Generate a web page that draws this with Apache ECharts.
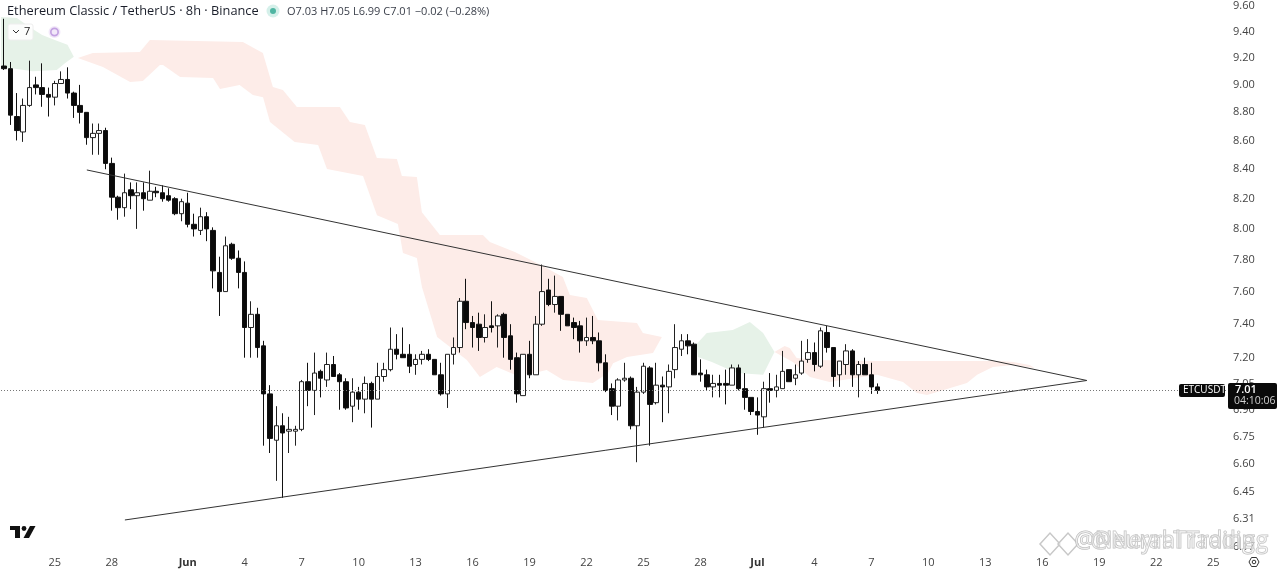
<!DOCTYPE html>
<html>
<head>
<meta charset="utf-8">
<style>html,body{margin:0;padding:0;background:#fff}#c{width:1280px;height:569px}</style>
<script src="https://cdn.jsdelivr.net/npm/echarts@6/dist/echarts.min.js"></script>
</head>
<body>
<div id="c"></div>
<script>
const opens=[9.14,9.12,8.77,8.66,8.85,9.00,8.98,8.93,8.91,9.01,
9.04,8.94,8.85,8.80,8.62,8.65,8.67,8.44,8.21,8.14,
8.26,8.22,8.24,8.19,8.25,8.24,8.22,8.20,8.10,8.17,
8.03,7.99,8.08,7.99,7.72,7.60,7.90,7.81,7.72,7.38,
7.46,7.27,6.99,6.73,6.81,6.78,6.78,6.79,7.06,7.01,
7.12,7.07,7.16,7.10,7.06,6.92,7.00,6.96,7.05,6.96,
7.09,7.13,7.25,7.22,7.22,7.16,7.19,7.22,7.19,7.10,
6.99,7.22,7.26,7.54,7.41,7.40,7.32,7.39,7.39,7.46,
7.33,7.20,6.98,7.22,7.10,7.40,7.61,7.52,7.57,7.46,
7.41,7.39,7.30,7.32,7.30,7.17,7.02,6.92,7.07,7.08,
6.81,7.00,7.14,6.94,7.04,7.03,7.13,7.25,7.30,7.28,
7.11,7.10,7.03,7.05,7.05,7.04,7.14,7.02,6.97,6.89,
6.86,7.02,7.01,7.02,7.13,7.08,7.11,7.19,7.23,7.15,
7.35,7.26,7.10,7.16,7.24,7.10,7.16,7.10,7.03];
const closes=[9.12,8.78,8.67,8.85,8.98,8.98,8.93,8.91,9.01,9.04,
8.94,8.85,8.80,8.62,8.65,8.67,8.44,8.21,8.14,8.24,
8.22,8.24,8.20,8.25,8.24,8.20,8.19,8.10,8.18,8.03,
8.00,8.08,8.00,7.73,7.60,7.89,7.81,7.72,7.38,7.46,
7.26,6.99,6.74,6.81,6.77,6.79,6.79,7.06,7.01,7.11,
7.08,7.16,7.09,7.06,6.91,7.00,6.96,7.05,6.96,7.09,
7.13,7.25,7.22,7.20,7.15,7.19,7.22,7.19,7.10,6.99,
7.22,7.26,7.54,7.41,7.38,7.32,7.38,7.38,7.45,7.32,
7.19,6.99,7.22,7.10,7.40,7.60,7.52,7.57,7.46,7.39,
7.38,7.30,7.32,7.30,7.17,7.01,6.92,7.07,7.08,6.81,
7.00,7.15,6.93,7.04,7.03,7.12,7.26,7.30,7.27,7.10,
7.10,7.03,7.05,7.04,7.04,7.14,7.02,6.97,6.89,6.87,
7.02,7.01,7.03,7.12,7.06,7.10,7.18,7.23,7.16,7.36,
7.26,7.09,7.18,7.24,7.10,7.16,7.10,7.03,7.01];
const highs=[9.50,9.17,8.94,8.90,9.18,9.06,9.16,8.98,9.03,9.10,
9.13,8.95,9.00,8.80,8.72,8.72,8.69,8.48,8.22,8.37,
8.31,8.31,8.31,8.39,8.28,8.29,8.27,8.21,8.20,8.24,
8.10,8.14,8.11,8.01,7.82,7.95,7.91,7.86,7.79,7.54,
7.50,7.30,7.04,6.92,6.88,6.86,6.81,7.07,7.17,7.23,
7.13,7.23,7.21,7.11,7.08,7.08,7.03,7.09,7.06,7.17,
7.17,7.38,7.34,7.38,7.28,7.22,7.24,7.25,7.19,7.17,
7.22,7.32,7.56,7.68,7.45,7.47,7.46,7.54,7.46,7.47,
7.40,7.23,7.22,7.30,7.45,7.77,7.68,7.70,7.57,7.46,
7.44,7.42,7.44,7.45,7.35,7.22,7.05,7.08,7.17,7.09,
7.03,7.17,7.15,7.17,7.09,7.16,7.40,7.34,7.34,7.29,
7.19,7.13,7.10,7.10,7.13,7.16,7.16,7.11,6.97,6.97,
7.06,7.11,7.10,7.24,7.13,7.16,7.30,7.31,7.29,7.38,
7.39,7.26,7.18,7.28,7.25,7.18,7.20,7.17,7.05];
const lows=[9.11,8.71,8.60,8.59,8.84,8.93,8.84,8.77,8.85,9.01,
8.90,8.76,8.72,8.57,8.50,8.50,8.40,8.12,8.06,8.08,
8.13,8.00,8.12,8.19,8.21,8.18,8.18,8.09,8.05,8.01,
7.95,7.96,7.92,7.62,7.45,7.60,7.80,7.62,7.20,7.20,
7.20,6.70,6.66,6.51,6.42,6.66,6.70,6.78,6.92,6.87,
6.97,7.03,7.09,6.90,6.90,6.83,6.90,6.88,6.80,6.96,
7.06,7.12,7.19,7.20,7.11,7.10,7.16,7.18,7.10,6.98,
6.91,7.16,7.23,7.37,7.26,7.24,7.29,7.35,7.26,7.20,
7.13,6.94,6.98,7.08,7.10,7.39,7.51,7.47,7.36,7.39,
7.31,7.23,7.27,7.28,7.12,7.00,6.87,6.84,7.06,6.79,
6.61,6.99,6.70,6.93,6.83,6.88,7.08,7.21,7.22,7.10,
7.06,7.01,6.97,6.97,6.93,7.04,7.01,6.90,6.87,6.76,
6.80,6.94,6.97,7.02,7.06,7.04,7.10,7.17,7.12,7.14,
7.23,7.03,7.03,7.10,7.03,6.97,7.10,6.99,6.99];

const barCount=194;
const dateTickIndex=[8,17,29,38,47,56,65,74,83,92,101,110,119,128,137,146,155,164,173,182,191];
const dateTickLabels=['25','28','Jun','4','7','10','13','16','19','22','25','28','Jul','4','7','10','13','16','19','22','25'];
const monthLabels=['Jun','Jul'];
const priceTicks=[6.17,6.31,6.45,6.60,6.75,6.90,7.05,7.20,7.40,7.60,7.80,8.00,8.20,8.40,8.60,8.80,9.00,9.20,9.40,9.60];
const lastPrice=7.01;

const greenAIndex=[-0.5,2,4,6,8,10,11,9.6,8.3,4.5,0.9,-0.5];
const greenAPrice=[9.514,9.506,9.437,9.375,9.337,9.30,9.21,9.16,9.11,9.10,9.125,9.125];
const redAIndex=[11.64,14.01,21.44,23.02,37.71,40.87,42.45,44.03,46.24,53.03,54.61,56.98,58.88,62.04,62.83,65.2,65.99,68.83,75.63,76.73,80.68,85.1,88.26,89.37,92.05,93.79,99.96,100.9,103.9,
102.5,98.4,96.2,95.4,93.0,88.3,85.7,83.05,80.7,77.8,75.15,73.1,68.4,66.0,65.2,63.0,62.2,58.9,56.7,51.0,49.6,45.9,42.0,40.9,39.3,37.2,34.1,33.0,27.8,25.1,24.6,21.9,19.9,15.6];
const redAPrice=[9.20,9.238,9.245,9.337,9.322,9.238,8.984,8.962,8.839,8.839,8.731,8.71,8.478,8.471,8.353,8.346,8.11,7.96,7.96,7.914,7.85,7.761,7.691,7.579,7.56,7.425,7.407,7.347,7.323,
7.227,7.204,7.168,7.11,7.052,7.07,7.128,7.105,7.10,7.145,7.087,7.186,7.323,7.628,7.812,7.844,8.032,8.09,8.353,8.402,8.568,8.589,8.731,8.91,8.925,8.999,8.969,9.051,9.058,9.148,9.148,9.029,9.021,9.132];
const greenBIndex=[109.4,111.0,115.1,117.8,119.9,121.7,121.3,119.9,115.75,111.8,109.6];
const greenBPrice=[7.281,7.347,7.365,7.413,7.347,7.233,7.204,7.10,7.11,7.174,7.204];
const redBIndex=[121.7,123.3,124.1,125.2,128.1,137.9,157.3,159.4,162.0,162.8,159.4,156.2,153.7,152.1,145.8,144.2,142.0,137.9,130.4,127.3,124.6];
const redBPrice=[7.233,7.269,7.257,7.198,7.186,7.18,7.18,7.174,7.157,7.14,7.157,7.145,7.10,7.052,6.983,6.995,7.058,7.10,7.058,7.087,7.174];

const upperTrendIndex=[13.06,171.04];
const upperTrendPrice=[8.395,7.067];
const lowerTrendIndex=[19.07,171.04];
const lowerTrendPrice=[6.305,7.067];

const RED='#fdece8', GREEN='#e6f2e8', FONT='"Open Sans","Noto Sans",sans-serif';
const ln=Math.log;
const labelByIndex={};
dateTickIndex.forEach((ix,k)=>{labelByIndex[ix]=dateTickLabels[k];});
const categories=Array.from({length:barCount},(_,i)=>String(i));
const candles=opens.map((o,i)=>[ln(o),ln(closes[i]),ln(lows[i]),ln(highs[i])]);
const regions=[
 {x:greenAIndex,p:greenAPrice,c:GREEN},
 {x:redAIndex,p:redAPrice,c:RED},
 {x:greenBIndex,p:greenBPrice,c:GREEN},
 {x:redBIndex,p:redBPrice,c:RED}
];

const chart=echarts.init(document.getElementById('c'),null,{renderer:'canvas'});
const labelText=(x,y,text,style)=>({type:'text',left:x,top:y,z:50,style:Object.assign({text,font:'11px '+FONT,fill:'#333'},style||{})});
chart.setOption({
 animation:false,
 backgroundColor:'#fff',
 title:{text:'Ethereum Classic / TetherUS · 8h · Binance',left:7,top:5,padding:0,textStyle:{fontFamily:FONT,fontSize:12.8,fontWeight:'normal',color:'#1a1e2a'}},
 grid:{left:1,top:0,width:1228,height:552,containLabel:false},
 xAxis:[
  {type:'category',data:categories,boundaryGap:true,axisLine:{show:false},axisTick:{show:false},splitLine:{show:false},
   axisLabel:{margin:5,fontFamily:FONT,fontSize:11,color:'#444',hideOverlap:false,
    interval:(i)=>labelByIndex[i]!==undefined,
    formatter:(v)=>{const t=labelByIndex[+v];return monthLabels.includes(t)?'{m|'+t+'}':t;},
    rich:{m:{fontFamily:FONT,fontSize:11,fontWeight:'bold',color:'#333'}}}},
  {type:'value',min:-0.5,max:barCount-0.5,show:false,splitLine:{show:false}}
 ],
 yAxis:{type:'value',position:'right',min:ln(6.142),max:ln(9.647),axisLine:{show:false},axisTick:{show:false},splitLine:{show:false},
  axisLabel:{margin:4,padding:[2,0,0,0],fontFamily:FONT,fontSize:11,color:'#444',customValues:priceTicks.map(ln),formatter:(v)=>Math.exp(v).toFixed(2)}},
 series:[
  {type:'custom',xAxisIndex:1,yAxisIndex:0,z:1,silent:true,data:regions.map((_,i)=>[i]),clip:true,
   renderItem:(params,api)=>{const r=regions[api.value(0)];
    return {type:'polygon',shape:{points:r.x.map((x,k)=>api.coord([x,ln(r.p[k])]))},style:{fill:r.c}};}},
  {type:'candlestick',xAxisIndex:0,yAxisIndex:0,z:3,data:candles,barWidth:5,
   itemStyle:{color:'#ffffff',color0:'#0a0a0a',borderColor:'#222',borderColor0:'#111',borderWidth:1},
   markLine:{silent:true,symbol:'none',precision:8,label:{show:false},animation:false,
    lineStyle:{color:'#777',type:[1,2],width:1},data:[{yAxis:ln(lastPrice)}]}},
  {type:'line',xAxisIndex:1,yAxisIndex:0,z:4,showSymbol:false,silent:true,lineStyle:{color:'#333',width:1},
   data:upperTrendIndex.map((x,k)=>[x,ln(upperTrendPrice[k])])},
  {type:'line',xAxisIndex:1,yAxisIndex:0,z:4,showSymbol:false,silent:true,lineStyle:{color:'#333',width:1},
   data:lowerTrendIndex.map((x,k)=>[x,ln(lowerTrendPrice[k])])}
 ],
 graphic:[
  {type:'circle',z:50,shape:{cx:273,cy:11,r:6.5},style:{fill:'#d5f0ea'}},
  {type:'circle',z:50,shape:{cx:273,cy:11,r:3},style:{fill:'#4fb5a2'}},
  labelText(287,6,'O7.03 H7.05 L6.99 C7.01 −0.02 (−0.28%)',{font:'11px '+FONT,fill:'#3a3f4a'}),
  {type:'rect',z:50,shape:{x:8,y:24,width:25,height:16,r:2},style:{fill:'rgba(255,255,255,0.85)',stroke:'#eee'}},
  {type:'polyline',z:51,shape:{points:[[13,30],[16,33],[19,30]]},style:{stroke:'#333',lineWidth:1,fill:null}},
  labelText(24,26,'7',{font:'11px '+FONT,fill:'#222'}),
  {type:'circle',z:50,shape:{cx:54.5,cy:32,r:6},style:{fill:'#f2e8f9'}},
  {type:'ring',z:51,shape:{cx:54.5,cy:32,r:4.5,r0:2.8},style:{fill:'#c3a2e2'}},
  {type:'rect',z:50,shape:{x:10,y:526,width:10,height:4},style:{fill:'#111'}},
  {type:'rect',z:50,shape:{x:15,y:530,width:5,height:8},style:{fill:'#111'}},
  {type:'circle',z:50,shape:{cx:24,cy:528.5,r:2.4},style:{fill:'#111'}},
  {type:'polygon',z:50,shape:{points:[[30,526],[35.5,526],[29,538],[23.5,538]]},style:{fill:'#111'}},
  {type:'rect',z:60,shape:{x:1179,y:384,width:46,height:13,r:2},style:{fill:'#0a0a0a'}},
  {type:'text',z:61,left:1183,top:385,style:{text:'ETCUSDT',font:'10px '+FONT,fill:'#fff'}},
  {type:'rect',z:60,shape:{x:1228,y:383,width:49,height:26,r:2},style:{fill:'#0a0a0a'}},
  {type:'text',z:61,left:1235,top:384,style:{text:'7.01',font:'600 11px '+FONT,fill:'#fff'}},
  {type:'text',z:61,left:1234,top:396,style:{text:'04:10:06',font:'10.5px '+FONT,fill:'#d0d0d0'}},
  {type:'polygon',z:50,shape:{points:[[1249,562],[1251.5,557.5],[1256.5,557.5],[1259,562],[1256.5,566.5],[1251.5,566.5]]},style:{fill:'none',stroke:'#333',lineWidth:1}},
  {type:'circle',z:50,shape:{cx:1254,cy:562,r:1.8},style:{fill:'none',stroke:'#333',lineWidth:1}},
  {type:'polygon',z:70,shape:{points:[[1040,544],[1050,533],[1060,544],[1050,555]]},style:{fill:'rgba(255,255,255,0.6)',stroke:'#c8c8c8',lineWidth:1.5}},
  {type:'polygon',z:70,shape:{points:[[1058,544],[1068,533],[1078,544],[1068,555]]},style:{fill:'rgba(255,255,255,0.6)',stroke:'#c8c8c8',lineWidth:1.5}},
  {type:'text',z:71,left:1074,top:529,style:{text:'@Neural Trading',font:'23px '+FONT,fill:'rgba(255,255,255,0.55)',stroke:'#b5b5b5',lineWidth:1}},
  {type:'text',z:71,left:1090,top:529,style:{text:'@Neyral Trading',font:'23px '+FONT,fill:'rgba(255,255,255,0.3)',stroke:'#c5c5c5',lineWidth:1}}
 ]
});
</script>
</body>
</html>
